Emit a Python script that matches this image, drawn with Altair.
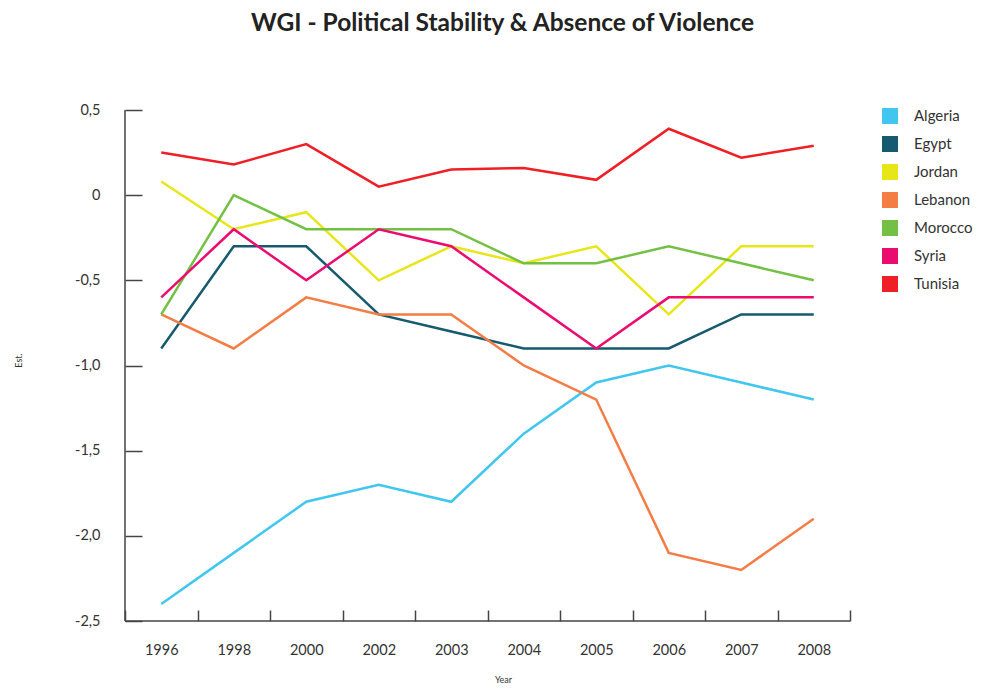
import altair as alt
import pandas as pd

years = ["1996", "1998", "2000", "2002", "2003", "2004", "2005", "2006", "2007", "2008"]
countries = ["Algeria", "Egypt", "Jordan", "Lebanon", "Morocco", "Syria", "Tunisia"]
colors = ["#41C6F0", "#155A6E", "#E6E619", "#F47C45", "#74C045", "#EB0C6F", "#EE1F25"]

algeria = [-2.4, -2.1, -1.8, -1.7, -1.8, -1.4, -1.1, -1.0, -1.1, -1.2]
egypt = [-0.9, -0.3, -0.3, -0.7, -0.8, -0.9, -0.9, -0.9, -0.7, -0.7]
jordan = [0.08, -0.2, -0.1, -0.5, -0.3, -0.4, -0.3, -0.7, -0.3, -0.3]
lebanon = [-0.7, -0.9, -0.6, -0.7, -0.7, -1.0, -1.2, -2.1, -2.2, -1.9]
morocco = [-0.7, 0.0, -0.2, -0.2, -0.2, -0.4, -0.4, -0.3, -0.4, -0.5]
syria = [-0.6, -0.2, -0.5, -0.2, -0.3, -0.6, -0.9, -0.6, -0.6, -0.6]
tunisia = [0.25, 0.18, 0.30, 0.05, 0.15, 0.16, 0.09, 0.39, 0.22, 0.29]

y_ticks = [-2.5, -2.0, -1.5, -1.0, -0.5, 0.0, 0.5]

series = [algeria, egypt, jordan, lebanon, morocco, syria, tunisia]
rows = []
for c, vals in zip(countries, series):
    for yr, v in zip(years, vals):
        rows.append({"Country": c, "Year": yr, "Est": v})
df = pd.DataFrame(rows)

W, H = 725, 511
FONT = "Lato"
AX = "#444444"

x_enc = alt.X(
    "Year:O", sort=years,
    scale=alt.Scale(type="band", paddingInner=0, paddingOuter=0),
    axis=alt.Axis(
        title="Year", tickBand="extent", domain=False, grid=False,
        tickSize=11, offset=-11, tickColor=AX, tickWidth=1.5,
        labelAngle=0, labelFont=FONT, labelFontSize=14.5, labelColor="#333333",
        labelPadding=22, titleFont=FONT, titleFontSize=9, titleFontWeight="normal",
        titleColor="#333333", titleX=378, titleY=69, titleAlign="center",
        titleBaseline="middle",
    ),
)
y_enc = alt.Y(
    "Est:Q",
    scale=alt.Scale(domain=[-2.5, 0.5], nice=False, zero=False),
    axis=alt.Axis(
        title="Est.", values=y_ticks, domain=False, grid=False,
        tickSize=17, offset=-17, tickColor=AX, tickWidth=1.5,
        labelFont=FONT, labelFontSize=14.5, labelColor="#333333", labelPadding=25,
        labelExpr="datum.value == 0 ? '0' : (datum.value < 0 ? '-' : '') + replace(format(abs(datum.value), '.1f'), '.', ',')",
        titleFont=FONT, titleFontSize=9, titleFontWeight="normal", titleColor="#333333",
        titleX=-124, titleY=250, titleAlign="center", titleBaseline="middle", titleAngle=-90,
    ),
)
color_scale = alt.Scale(domain=countries, range=colors)

legend_layer = alt.Chart(df).mark_square(opacity=0).encode(
    x=x_enc, y=y_enc,
    color=alt.Color(
        "Country:N", scale=color_scale,
        legend=alt.Legend(
            title=None, orient="none", legendX=757, legendY=-2,
            symbolType="square", symbolSize=256, symbolOpacity=1, symbolStrokeWidth=0,
            labelFont=FONT, labelFontSize=15, labelColor="#333333",
            labelOffset=16, rowPadding=12,
        ),
    ),
)

lines = alt.Chart(df).mark_line(strokeWidth=2.5).encode(
    x=x_enc, y=y_enc,
    color=alt.Color("Country:N", scale=color_scale, legend=None),
    detail="Country:N",
)

one = pd.DataFrame({"k": [0]})
y_domain = alt.Chart(one).mark_rule(color=AX, strokeWidth=1.5).encode(
    x=alt.value(0), y=alt.value(0), y2=alt.value(H)
)
x_domain = alt.Chart(one).mark_rule(color=AX, strokeWidth=1.5).encode(
    x=alt.value(0), x2=alt.value(W), y=alt.value(H)
)

chart = alt.layer(legend_layer, lines, y_domain, x_domain).properties(
    width=W, height=H,
    autosize=alt.AutoSizeParams(type="none"),
    padding={"left": 117, "top": 102, "right": 124, "bottom": 64},
    title=alt.TitleParams(
        "WGI - Political Stability & Absence of Violence",
        font=FONT, fontSize=24.5, fontWeight="bold", color="#222222",
        anchor="middle", frame="group", dx=15, offset=66,
    ),
).configure_view(stroke="transparent")

chart.save("out.html", embed_options={"renderer": "svg", "actions": False})
